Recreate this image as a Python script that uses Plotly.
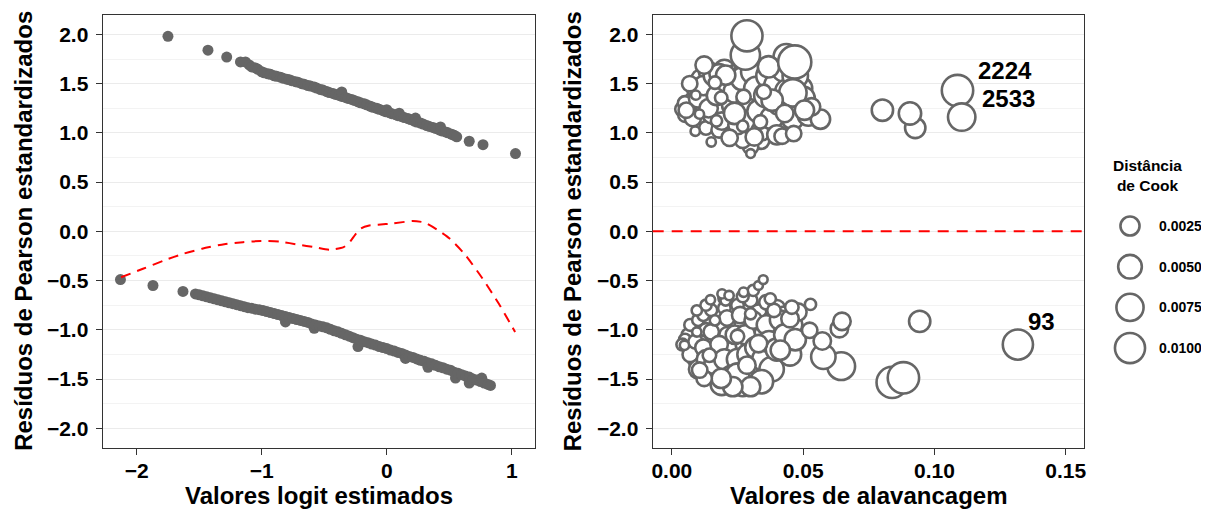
import math
import plotly.graph_objects as go

# ---------------- data ----------------
# Left panel: fitted logit vs standardized Pearson residuals
fit_up = [-1.75, -1.43, -1.28, -1.17, -1.13, -1.10, -1.08, -1.05, -1.03, -1.00, -0.98, -0.95, -0.93, -0.90,
          -0.88, -0.85, -0.83, -0.80, -0.78, -0.76, -0.73, -0.71, -0.68, -0.66, -0.63, -0.61, -0.58, -0.56,
          -0.53, -0.51, -0.48, -0.46, -0.43, -0.41, -0.38, -0.36, -0.36, -0.33, -0.31, -0.28, -0.26, -0.23,
          -0.21, -0.18, -0.16, -0.13, -0.11, -0.08, -0.06, -0.03, -0.01, 0.00, 0.02, 0.04, 0.07, 0.09, 0.10,
          0.12, 0.14, 0.17, 0.19, 0.22, 0.23, 0.24, 0.27, 0.29, 0.32, 0.34, 0.37, 0.39, 0.42, 0.43, 0.44,
          0.47, 0.49, 0.52, 0.54, 0.56, 0.66, 0.77, 1.03]
res_up = [1.98, 1.84, 1.77, 1.72, 1.72, 1.69, 1.67, 1.66, 1.645, 1.62, 1.61, 1.60, 1.595, 1.58,
          1.575, 1.565, 1.555, 1.545, 1.54, 1.53, 1.52, 1.515, 1.50, 1.495, 1.48, 1.475, 1.465, 1.455,
          1.44, 1.435, 1.42, 1.41, 1.40, 1.39, 1.38, 1.37, 1.415, 1.36, 1.35, 1.34, 1.33, 1.315,
          1.305, 1.295, 1.285, 1.27, 1.26, 1.25, 1.24, 1.225, 1.215, 1.235, 1.205, 1.195, 1.185, 1.175, 1.20,
          1.165, 1.155, 1.145, 1.135, 1.12, 1.15, 1.11, 1.10, 1.09, 1.075, 1.065, 1.055, 1.045, 1.03, 1.06, 1.02,
          1.01, 1.00, 0.985, 0.975, 0.96, 0.915, 0.88, 0.79]
fit_low = [-2.13, -1.87, -1.63, -1.53, -1.50, -1.47, -1.44, -1.41, -1.38, -1.35, -1.32, -1.29, -1.26, -1.23,
           -1.20, -1.17, -1.14, -1.11, -1.08, -1.05, -1.02, -0.99, -0.96, -0.93, -0.90, -0.87, -0.84, -0.81,
           -0.81, -0.78, -0.75, -0.72, -0.69, -0.66, -0.63, -0.60, -0.58, -0.57, -0.54, -0.51, -0.48, -0.45,
           -0.42, -0.39, -0.36, -0.33, -0.30, -0.27, -0.24, -0.23, -0.21, -0.18, -0.15, -0.12, -0.09, -0.06,
           -0.03, 0.00, 0.03, 0.06, 0.09, 0.12, 0.15, 0.15, 0.18, 0.21, 0.24, 0.27, 0.30, 0.33, 0.33, 0.36,
           0.39, 0.42, 0.45, 0.48, 0.51, 0.54, 0.55, 0.57, 0.60, 0.63, 0.66, 0.66, 0.69, 0.72, 0.75, 0.76,
           0.78, 0.81, 0.83]
res_low = [-0.49, -0.55, -0.61, -0.635, -0.645, -0.655, -0.665, -0.675, -0.685, -0.695, -0.705, -0.715, -0.725, -0.735,
           -0.745, -0.755, -0.765, -0.775, -0.78, -0.79, -0.795, -0.805, -0.815, -0.825, -0.835, -0.845, -0.855, -0.92,
           -0.865, -0.875, -0.885, -0.895, -0.905, -0.915, -0.925, -0.94, -0.985, -0.95, -0.96, -0.97, -0.98, -0.995,
           -1.01, -1.02, -1.035, -1.05, -1.065, -1.08, -1.095, -1.17, -1.105, -1.12, -1.13, -1.145, -1.155, -1.17,
           -1.18, -1.19, -1.205, -1.215, -1.23, -1.24, -1.255, -1.29, -1.27, -1.28, -1.295, -1.31, -1.32, -1.335, -1.38, -1.345,
           -1.36, -1.375, -1.385, -1.40, -1.41, -1.43, -1.49, -1.44, -1.455, -1.47, -1.54, -1.48, -1.50, -1.51, -1.525, -1.49,
           -1.54, -1.555, -1.565]
loess_x = [-2.125, -1.95, -1.78, -1.62, -1.477, -1.30, -1.15, -1.007, -0.85, -0.704, -0.58, -0.455, -0.345,
           -0.30, -0.25, -0.207, -0.14, -0.069, 0.05, 0.207, 0.30, 0.40, 0.50, 0.62, 0.759, 0.897, 1.027]
loess_y = [-0.466, -0.38, -0.295, -0.225, -0.176, -0.13, -0.11, -0.098, -0.105, -0.136, -0.16, -0.186, -0.16,
           -0.115, -0.03, 0.03, 0.06, 0.068, 0.08, 0.105, 0.09, 0.02, -0.07, -0.227, -0.466, -0.736, -1.022]

# Right panel: leverage vs residuals, bubble size = Cook's distance (positive residuals)
lev_pos = [0.006, 0.007, 0.008, 0.009, 0.010, 0.011, 0.012, 0.013, 0.013, 0.014, 0.015, 0.016, 0.018, 0.018,
           0.019, 0.020, 0.021, 0.022, 0.022, 0.024, 0.025, 0.026, 0.026, 0.028, 0.028, 0.030, 0.031, 0.032,
           0.033, 0.034, 0.035, 0.036, 0.037, 0.039, 0.040, 0.041, 0.042, 0.044, 0.045, 0.048, 0.049, 0.030,
           0.027, 0.004, 0.005, 0.005,
           0.008, 0.010, 0.012, 0.014, 0.016, 0.017, 0.019, 0.021, 0.023, 0.024, 0.025, 0.027, 0.029, 0.029,
           0.031, 0.032, 0.033, 0.034, 0.036, 0.037, 0.038, 0.040, 0.041, 0.043, 0.044, 0.046, 0.047, 0.050,
           0.052, 0.040, 0.022, 0.018,
           0.0436, 0.0368, 0.028, 0.0286, 0.0468, 0.0461, 0.0566, 0.0532, 0.0505, 0.0382, 0.0239, 0.0205,
           0.0123, 0.0068, 0.0055, 0.043, 0.042, 0.0464, 0.0314, 0.0802, 0.0927, 0.0907,
           0.035, 0.0273, 0.0188, 0.0164, 0.0091, 0.0105, 0.017, 0.027, 0.0337, 0.030, 0.015, 0.0089]
res_pos = [1.27, 1.20, 1.33, 1.45, 1.10, 1.55, 1.28, 1.05, 1.40, 1.62, 1.18, 1.30, 1.45, 1.03,
           1.22, 1.64, 1.38, 1.50, 1.10, 1.58, 1.30, 1.45, 0.98, 1.62, 1.20, 1.50, 1.05, 1.35,
           1.60, 0.92, 1.25, 1.50, 1.05, 1.40, 1.20, 1.60, 1.10, 1.30, 1.55, 1.25, 1.45, 0.86,
           0.93, 1.24, 1.30, 1.18,
           1.15, 1.35, 1.48, 1.25, 1.58, 1.38, 1.12, 1.52, 1.28, 1.42, 1.08, 1.55, 1.33, 1.12,
           1.62, 1.45, 1.22, 1.02, 1.38, 1.58, 1.15, 1.48, 1.30, 1.65, 1.42, 1.15, 1.58, 1.35,
           1.18, 0.98, 0.95, 1.60,
           1.773, 1.671, 1.79, 1.986, 1.72, 1.407, 1.139, 1.264, 1.23, 1.332, 1.197, 1.586,
           1.688, 1.50, 1.23, 1.197, 0.966, 0.993, 0.959, 1.23, 1.05, 1.197,
           1.417, 1.366, 1.356, 1.51, 1.383, 1.19, 1.122, 1.068, 1.112, 0.79, 0.908, 1.017]
cook_pos = [0.0011, 0.0006, 0.0014, 0.0018, 0.0008, 0.0022, 0.0014, 0.0006, 0.0018, 0.0026, 0.0014, 0.0018, 0.0026, 0.0011,
            0.0022, 0.0031, 0.0026, 0.0036, 0.0018, 0.0036, 0.0031, 0.0042, 0.0018, 0.0042, 0.0031, 0.0042, 0.0026, 0.0042,
            0.0049, 0.0014, 0.0036, 0.0049, 0.0031, 0.0049, 0.0036, 0.0055, 0.0031, 0.0042, 0.0055, 0.0036, 0.0049, 0.0011,
            0.0014, 0.0008, 0.0008, 0.0006,
            0.0014, 0.0022, 0.0026, 0.0022, 0.0031, 0.0026, 0.0018, 0.0036, 0.0031, 0.0042, 0.0022, 0.0049, 0.0042, 0.0031,
            0.0055, 0.0049, 0.0042, 0.0026, 0.0055, 0.0062, 0.0042, 0.0062, 0.0049, 0.0069, 0.0055, 0.0042, 0.0062, 0.0049,
            0.0036, 0.0026, 0.0014, 0.0026,
            0.0062, 0.0036, 0.0093, 0.0110, 0.0130, 0.0077, 0.0026, 0.0018, 0.0026, 0.0036, 0.0036, 0.0026,
            0.0018, 0.0011, 0.0011, 0.0018, 0.0011, 0.0011, 0.0018, 0.0036, 0.0031, 0.0042,
            0.0008, 0.0008, 0.0004, 0.0004, 0.00003, 0.00003, 0.0002, 0.0002, 0.0006, 0.00001, 0.00003, 0.00003]

# (negative residuals)
lev_neg = [0.006, 0.007, 0.008, 0.009, 0.010, 0.011, 0.012, 0.013, 0.014, 0.015, 0.016, 0.017, 0.018, 0.019,
           0.020, 0.021, 0.022, 0.023, 0.024, 0.025, 0.026, 0.027, 0.028, 0.029, 0.030, 0.031, 0.032, 0.033,
           0.034, 0.035, 0.036, 0.037, 0.038, 0.039, 0.040, 0.042, 0.043, 0.044, 0.046, 0.048, 0.013, 0.020,
           0.027, 0.031, 0.005, 0.004,
           0.007, 0.009, 0.010, 0.012, 0.013, 0.015, 0.016, 0.018, 0.019, 0.020, 0.021, 0.023, 0.024, 0.025,
           0.026, 0.027, 0.028, 0.029, 0.030, 0.031, 0.032, 0.033, 0.035, 0.036, 0.037, 0.038, 0.040, 0.041,
           0.043, 0.045, 0.047,
           0.0839, 0.0882, 0.0645, 0.0577, 0.0573, 0.0638, 0.0648, 0.0525, 0.0528, 0.0944, 0.025, 0.0341,
           0.030, 0.0232, 0.0188, 0.0123, 0.0106, 0.0413, 0.033, 0.045, 0.0286, 0.025, 0.0143, 0.0389,
           0.0457, 0.030, 0.0375, 0.0205, 0.0095, 0.0164, 0.0273, 0.0191, 0.0218, 0.0147, 0.0095, 0.0048,
           0.033, 0.0348]
res_neg = [-1.05, -0.95, -1.20, -1.30, -0.90, -1.12, -0.85, -1.00, -1.38, -0.80, -1.10, -1.45, -0.95, -1.25,
           -0.78, -1.05, -1.40, -0.90, -1.20, -0.75, -1.52, -0.95, -1.15, -1.45, -0.70, -1.00, -1.30, -0.82,
           -1.40, -1.05, -0.72, -1.25, -0.90, -1.10, -0.78, -1.00, -0.85, -1.15, -0.95, -0.82, -0.75, -0.68,
           -0.66, -0.60, -1.10, -1.15,
           -1.25, -1.12, -1.40, -1.18, -1.30, -1.02, -1.35, -1.15, -1.55, -1.30, -0.88, -1.48, -1.05, -1.30,
           -0.85, -1.55, -1.05, -1.25, -1.50, -0.90, -1.18, -1.45, -1.30, -0.95, -1.12, -1.40, -1.20, -0.90,
           -1.05, -1.25, -1.10,
           -1.534, -1.487, -1.369, -1.274, -1.113, -0.988, -0.914, -1.005, -0.742, -0.914, -1.46, -1.527,
           -1.577, -1.577, -1.493, -1.493, -1.409, -1.207, -1.14, -0.887, -1.359, -1.066, -1.258, -0.803,
           -0.77, -0.837, -0.685, -0.702, -0.803, -0.904, -0.618, -0.635, -0.652, -0.695, -1.022, -1.157,
           -0.55, -0.49]
cook_neg = [0.0003, 0.0003, 0.0006, 0.0011, 0.0003, 0.0006, 0.0003, 0.0006, 0.0018, 0.0003, 0.0008, 0.0026, 0.0008, 0.0018,
            0.0004, 0.0011, 0.0031, 0.0011, 0.0022, 0.0004, 0.0042, 0.0014, 0.0026, 0.0049, 0.0006, 0.0018, 0.0036, 0.0011,
            0.0049, 0.0026, 0.0008, 0.0036, 0.0018, 0.0031, 0.0014, 0.0026, 0.0018, 0.0036, 0.0026, 0.0018, 0.0002, 0.0003,
            0.0003, 0.0002, 0.0003, 0.0003,
            0.0011, 0.0008, 0.0022, 0.0014, 0.0022, 0.0011, 0.0026, 0.0018, 0.0042, 0.0031, 0.0011, 0.0049, 0.0022, 0.0036,
            0.0014, 0.0055, 0.0026, 0.0036, 0.0062, 0.0018, 0.0036, 0.0055, 0.0049, 0.0026, 0.0036, 0.0055, 0.0042, 0.0026,
            0.0036, 0.0042, 0.0036,
            0.0110, 0.0112, 0.0080, 0.0055, 0.0018, 0.0018, 0.0018, 0.0011, 0.0002, 0.0036, 0.0049, 0.0049,
            0.0026, 0.0026, 0.0026, 0.0011, 0.0011, 0.0026, 0.0018, 0.0018, 0.0018, 0.0006, 0.0006, 0.0006,
            0.0006, 0.0002, 0.0002, 0.0001, 0.0001, 0.0001, 0.00003, 0.00003, 0.00003, 0.00003, 0.00003, 0.00003,
            0.00001, 0.00001]

out_ids = ["2224", "2533", "93"]
out_lev = [0.1088, 0.1104, 0.1318]
out_res = [1.43, 1.16, -1.15]
out_cook = [0.0112, 0.0077, 0.0101]

cook_breaks = [0.0025, 0.0050, 0.0075, 0.0100]
y_ticks = [-2.0, -1.5, -1.0, -0.5, 0.0, 0.5, 1.0, 1.5, 2.0]
x1_ticks = [-2, -1, 0, 1]
x2_ticks = [0.00, 0.05, 0.10, 0.15]
hline_y = 0.0

# ---------------- styling / layout ----------------
FONT = "Liberation Sans, Arial, sans-serif"
OFF = 8                      # page body margin of the rendered html
W, H = 1209 - OFF, 516 - OFF
GREY = "#666666"
LW = 2.6


def bubble_size(c):
    return 8.1 + 220.0 * math.sqrt(c)


def px_x(p):
    return (p - OFF) / W


def px_y(p):
    return 1 - (p - OFF) / H


fig = go.Figure()

fig.add_trace(go.Scatter(x=fit_up + fit_low, y=res_up + res_low, mode="markers",
                         marker=dict(size=11, color=GREY, opacity=1), xaxis="x", yaxis="y", hoverinfo="skip"))
fig.add_trace(go.Scatter(x=loess_x, y=loess_y, mode="lines",
                         line=dict(color="#FF0000", width=2, dash="10px,7px", shape="spline", smoothing=0.6),
                         xaxis="x", yaxis="y", hoverinfo="skip"))

lev_all = lev_pos + lev_neg + out_lev
res_all = res_pos + res_neg + out_res
cook_all = cook_pos + cook_neg + out_cook
fig.add_trace(go.Scatter(x=lev_all, y=res_all, mode="markers",
                         marker=dict(size=[bubble_size(c) for c in cook_all], color="white", opacity=1,
                                     line=dict(color=GREY, width=LW)),
                         xaxis="x2", yaxis="y2", hoverinfo="skip", cliponaxis=False))

fig.add_shape(type="line", xref="x2 domain", yref="y2", x0=0, x1=1, y0=hline_y, y1=hline_y,
              line=dict(color="#FF0000", width=2, dash="11px,8px"), layer="above")

# legend (drawn on a pixel-mapped helper axis)
leg_x = 1130
leg_y0, leg_dy = 226, 40.7
leg_ys = [leg_y0 + i * leg_dy for i in range(len(cook_breaks))]
fig.add_trace(go.Scatter(x=[leg_x] * len(cook_breaks), y=leg_ys, mode="markers",
                         marker=dict(size=[bubble_size(c) for c in cook_breaks], color="white", opacity=1,
                                     line=dict(color=GREY, width=LW)),
                         xaxis="x3", yaxis="y3", hoverinfo="skip", cliponaxis=False))

annotations = []
for c, yy in zip(cook_breaks, leg_ys):
    annotations.append(dict(x=1157, y=yy, xref="x3", yref="y3", text=f"<b>{c:.4f}</b>", showarrow=False,
                            xanchor="left", yanchor="middle", font=dict(family=FONT, size=14, color="black")))
annotations.append(dict(x=1147.5, y=175.5, xref="x3", yref="y3", text="<b>Distância<br>de Cook</b>",
                        showarrow=False, xanchor="center", yanchor="middle", align="center",
                        font=dict(family=FONT, size=15.5, color="black")))

shifts = {"2224": (18, 20), "2533": (18, 19), "93": (8, 23)}
for i, lab in enumerate(out_ids):
    dx, dy = shifts[lab]
    annotations.append(dict(x=out_lev[i], y=out_res[i], xref="x2", yref="y2", text=f"<b>{lab}</b>",
                            showarrow=False, xanchor="left", yanchor="middle", xshift=dx, yshift=dy,
                            font=dict(family=FONT, size=24, color="black")))

# axis titles
ydom = [px_y(448), px_y(14.7)]
xdom1 = [px_x(102.7), px_x(535)]
xdom2 = [px_x(652.7), px_x(1084.3)]
ymid = (ydom[0] + ydom[1]) / 2
title_font = dict(family=FONT, size=24, color="black")
annotations += [
    dict(x=(xdom1[0] + xdom1[1]) / 2, y=px_y(495), xref="paper", yref="paper", text="<b>Valores logit estimados</b>",
         showarrow=False, xanchor="center", yanchor="middle", font=title_font),
    dict(x=(xdom2[0] + xdom2[1]) / 2, y=px_y(495), xref="paper", yref="paper", text="<b>Valores de alavancagem</b>",
         showarrow=False, xanchor="center", yanchor="middle", font=title_font),
    dict(x=px_x(23.5), y=ymid, xref="paper", yref="paper", text="<b>Resíduos de Pearson estandardizados</b>",
         showarrow=False, xanchor="center", yanchor="middle", textangle=-90, font=title_font),
    dict(x=px_x(572), y=ymid, xref="paper", yref="paper", text="<b>Resíduos de Pearson estandardizados</b>",
         showarrow=False, xanchor="center", yanchor="middle", textangle=-90, font=title_font),
]

tick_font = dict(family=FONT, size=21, color="black", weight="bold")
minor_vals = [(a + b) / 2 for a, b in zip(y_ticks[:-1], y_ticks[1:])] + [y_ticks[0] - 0.25, y_ticks[-1] + 0.25]
common_x = dict(showgrid=False, zeroline=False, showline=True, mirror=True, linecolor="#333333", linewidth=1.3,
                ticks="outside", ticklen=6, tickwidth=1.3, tickcolor="#333333", tickfont=tick_font,
                tickmode="array", fixedrange=True, automargin=False)
common_y = dict(common_x, showgrid=True, gridcolor="#EBEBEB", gridwidth=1.4, range=[-2.2, 2.2],
                tickvals=y_ticks, tickformat=".1f", domain=ydom, ticklabelstandoff=3,
                minor=dict(tickvals=minor_vals, showgrid=True, gridcolor="#F3F3F3", gridwidth=0.8, ticks=""))

fig.update_layout(
    width=W, height=H, margin=dict(l=0, r=0, t=0, b=0, autoexpand=False),
    paper_bgcolor="white", plot_bgcolor="white", showlegend=False,
    font=dict(family=FONT, color="black"),
    xaxis=dict(common_x, domain=xdom1, range=[-2.272, 1.186], tickvals=x1_ticks, tickformat="d", anchor="y",
               ticklabelstandoff=-2),
    yaxis=dict(common_y, anchor="x"),
    xaxis2=dict(common_x, domain=xdom2, range=[-0.0073, 0.1571], tickvals=x2_ticks, tickformat=".2f", anchor="y2",
                ticklabelstandoff=-2),
    yaxis2=dict(common_y, anchor="x2"),
    xaxis3=dict(domain=[px_x(1100), 1.0], range=[1100, 1209], visible=False, fixedrange=True, anchor="y3",
                automargin=False),
    yaxis3=dict(domain=[0, 1], range=[516, OFF], visible=False, fixedrange=True, anchor="x3", automargin=False),
    annotations=annotations,
)

fig.write_html("out.html")
